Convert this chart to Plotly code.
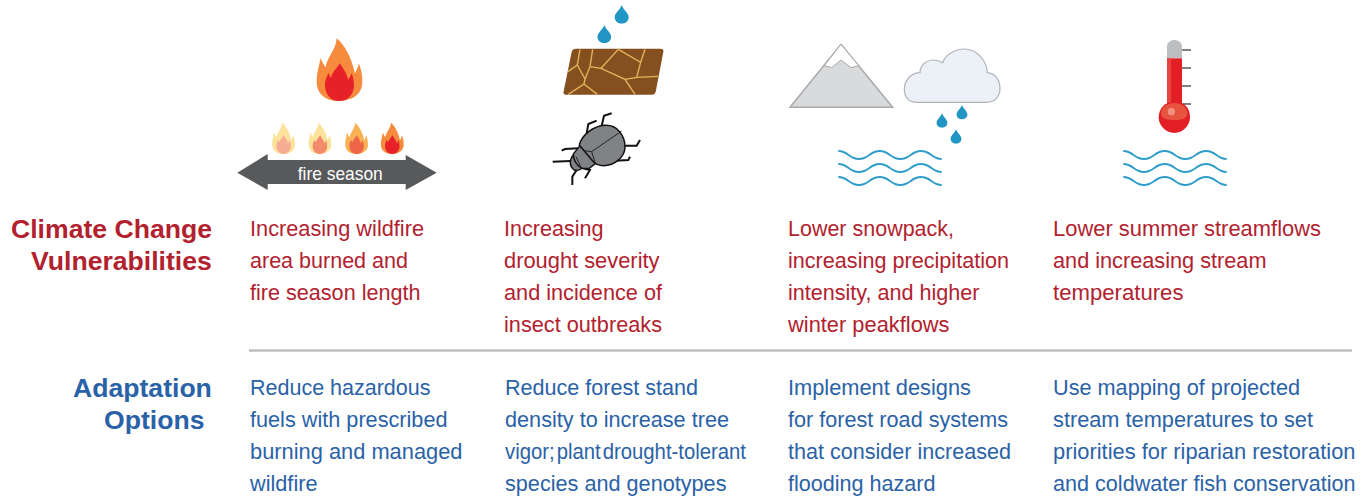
import json
import re
import plotly.graph_objects as go

# Text content
vulnerability_title = ["Climate Change", "Vulnerabilities"]
adaptation_title = ["Adaptation", "Options"]
vulnerabilities = [
    ["Increasing wildfire", "area burned and", "fire season length"],
    ["Increasing", "drought severity", "and incidence of", "insect outbreaks"],
    ["Lower snowpack,", "increasing precipitation", "intensity, and higher", "winter peakflows"],
    ["Lower summer streamflows", "and increasing stream", "temperatures"],
]
adaptations = [
    ["Reduce hazardous", "fuels with prescribed", "burning and managed", "wildfire"],
    ["Reduce forest stand", "density to increase tree", "vigor; plant drought-tolerant", "species and genotypes"],
    ["Implement designs", "for forest road systems", "that consider increased", "flooding hazard"],
    ["Use mapping of projected", "stream temperatures to set", "priorities for riparian restoration", "and coldwater fish conservation"],
]
arrow_label = "fire season"

# Layout of the text, in page pixels
column_x = [249, 503, 787, 1052]
adaptation_x = [249, 504, 787, 1052]
vulnerability_y = [228.3, 260.3, 292.3, 324.3]
adaptation_y = [387.3, 419.3, 451.3, 483.3]
# where each line ends in the reference
vulnerability_right = [
    [423.5, 407.5, 420],
    [603, 659, 661.5, 661.5],
    [953.5, 1008.5, 979, 949],
    [1320.5, 1266, 1183],
]
adaptation_right = [
    [430, 447, 462, 317],
    [697.5, 728.5, 745.5, 726],
    [970.5, 1007.5, 1010.5, 935],
    [1299.5, 1312.5, 1355, 1355],
]

RED = "#b2212e"
BLUE = "#2a62a8"
WATER = "#2196c4"
WAVE = "#2f9dc9"
GREY = "#58595b"

FLAME_OUTER = "M325,213 C285,213 260,190 260,155 C260,130 268,105 272,84 C276,95 280,103 287,112 C292,80 318,60 320,25 C345,45 365,85 375,130 C380,120 385,110 387,100 C394,120 398,140 397,160 C395,195 365,213 325,213 Z"
FLAME_INNER = "M328,213 C300,213 285,190 285,165 C285,150 290,140 296,128 C298,135 300,140 303,143 C308,125 320,115 330,100 C338,115 348,125 355,150 C358,145 362,138 365,130 C370,142 372,155 372,170 C370,195 352,213 328,213 Z"
small_flames = [
    (283, "#fde29b", "#f7ad94"),
    (319.3, "#fde29b", "#f28b6c"),
    (356, "#fbb254", "#ee6547"),
    (391.7, "#f68b3e", "#e62129"),
]

shapes = []


def xf(d, fx):
    # map "x,y" pairs of a path string through fx
    def repl(m):
        x, y = fx(float(m.group(1)), float(m.group(2)))
        return f"{x:.2f},{y:.2f}"
    return re.sub(r"(-?[\d.]+),(-?[\d.]+)", repl, d)


def crop(ox, oy):
    # coordinates measured on a 3x crop whose corner is (ox, oy)
    return lambda x, y: (ox + x / 3, oy + y / 3)


def add_path(d, fill=None, line=None, width=0):
    s = dict(type="path", xref="x", yref="y", path=d, layer="above")
    s["fillcolor"] = fill if fill else "rgba(0,0,0,0)"
    s["line"] = dict(color=line if line else "rgba(0,0,0,0)", width=width)
    shapes.append(s)


def add_flame(cx, bottom, scale, outer, inner):
    fx = lambda x, y: (cx + (x - 325) / 3 * scale, bottom + (y - 213) / 3 * scale)
    add_path(xf(FLAME_OUTER, fx), fill=outer)
    add_path(xf(FLAME_INNER, fx), fill=inner)


def add_drop(cx, top, bottom):
    h = bottom - top
    w = h * 0.38
    d = (f"M{cx:.1f},{top:.1f} C{cx + w * 0.3:.1f},{top + h * 0.3:.1f} {cx + w:.1f},{top + h * 0.42:.1f} "
         f"{cx + w:.1f},{top + h * 0.66:.1f} C{cx + w:.1f},{top + h * 0.88:.1f} {cx + w * 0.5:.1f},{bottom:.1f} {cx:.1f},{bottom:.1f} "
         f"C{cx - w * 0.5:.1f},{bottom:.1f} {cx - w:.1f},{top + h * 0.88:.1f} {cx - w:.1f},{top + h * 0.66:.1f} "
         f"C{cx - w:.1f},{top + h * 0.42:.1f} {cx - w * 0.3:.1f},{top + h * 0.3:.1f} {cx:.1f},{top:.1f} Z")
    add_path(d, fill=WATER)


def add_waves(x0, y0):
    # three wavy lines, each 103 px long
    step = 103.4 / 5
    amp = 8
    for row in range(3):
        y = y0 + 13 * row
        d = f"M{x0:.1f},{y:.1f} C{x0 + step * 0.5:.1f},{y:.1f} {x0 + step * 0.5:.1f},{y + amp:.1f} {x0 + step:.1f},{y + amp:.1f}"
        for k in range(2, 6):
            target = y if k % 2 == 0 else y + amp
            prev = y + amp if k % 2 == 0 else y
            xa = x0 + step * (k - 1)
            d += f" C{xa + step * 0.5:.1f},{prev:.1f} {xa + step * 0.5:.1f},{target:.1f} {xa + step:.1f},{target:.1f}"
        add_path(d, line=WAVE, width=1.8)


# --- fire icons ---
add_flame(338.3, 101, 1, "#f68b3e", "#e62129")
for cx, outer, inner in small_flames:
    add_flame(cx, 154, 0.5, outer, inner)
add_path("M237.3,172.7 L267.7,154 L267.7,160 L405.7,160 L405.7,155 L436.7,172.7 L405.7,190 L405.7,184 L267.7,184 L267.7,190 Z", fill=GREY)

# --- drought and beetle ---
f2 = crop(540, 0)
add_drop(621.7, 5, 23.5)
add_drop(604.3, 25, 43)
add_path(xf("M108,146 L362,146 Q372,146 370,156 L347,276 Q345,284 337,284 L78,284 Q68,284 71,274 L95,156 Q98,146 108,146 Z", f2), fill="#85501f")
cracks = [
    "M120,148 L112,195 L135,237 L132,252 L85,283",
    "M112,195 L84,215",
    "M158,148 L150,200 L135,237",
    "M150,200 L183,205 L255,238 L285,283",
    "M132,252 L172,283",
    "M183,205 L235,148 L302,187 L315,148",
    "M302,187 L290,232 L255,238",
    "M290,232 L355,229",
]
for c in cracks:
    add_path(xf(c, f2), line="#e3b35c", width=1.4)
legs = [
    "M185,378 L192,347 L215,340",
    "M140,400 L145,372 L170,362",
    "M253,437 L290,437 L300,420",
    "M225,482 L265,480 L270,470",
    "M115,445 L75,447 L65,452",
    "M92,483 L38,485",
    "M110,510 L97,530 L97,555",
    "M128,505 L150,510 L135,535",
]
for leg in legs:
    add_path(xf(leg, f2), line="#111111", width=2)
add_path(xf("M100,465 C88,478 88,498 100,508 C110,515 120,510 128,503 Z", f2), fill="#808285", line="#111111", width=1.4)
add_path(xf("M120,437 L100,462 C100,480 110,498 128,505 L148,505 L167,490 Z", f2), fill="#808285", line="#111111", width=1.4)
add_path(xf("M118,435 C125,405 160,378 195,376 C230,374 255,405 255,440 C255,470 225,497 190,497 C170,497 165,490 160,485 Z", f2), fill="#808285", line="#111111", width=1.5)
add_path(xf("M245,393 L155,455 L132,452 M155,455 L166,490 M108,470 L122,500", f2), line="#222222", width=1)

# --- mountain and cloud ---
f3 = crop(780, 35)
add_path(xf("M183,28 L338,217 L30,217 Z", f3), fill="#d9dadb", line="#a7a9ac", width=1.5)
add_path(xf("M183,28 L236,92 L213,98 L183,75 L155,98 L133,92 Z", f3), fill="#ffffff", line="#a7a9ac", width=1)
add_path(xf("M410,202 C385,202 373,185 373,163 C373,135 395,113 420,113 C420,90 440,75 460,75 C470,75 480,78 488,83 C495,60 525,42 552,42 C590,42 620,75 622,113 C645,115 660,135 660,160 C660,185 645,202 620,202 Z", f3),
         fill="#ecf1f8", line="#b1b3b6", width=1.2)
add_drop(780 + 546 / 3, 35 + 210 / 3, 35 + 253 / 3)
add_drop(780 + 486 / 3, 35 + 235 / 3, 35 + 278 / 3)
add_drop(780 + 528 / 3, 35 + 283 / 3, 35 + 326 / 3)
add_waves(838.3, 151)

# --- thermometer ---
f4 = crop(1110, 30)
for tick_y in [60, 114, 168, 222]:
    add_path(xf(f"M216,{tick_y} L243,{tick_y}", f4), line=GREY, width=1.5)
add_path(xf("M171,85 L171,50 C171,37 182,30 193,30 C205,30 216,37 216,50 L216,85 Z", f4), fill="#bcbec0")
add_path(xf("M171,85 L216,85 L216,235 L171,235 Z", f4), fill="#e31f26")
add_path(xf("M171,85 L183,85 L183,235 L171,235 Z", f4), fill="#e8443f")
add_path(xf("M193,215 C225,215 240,235 240,262 C240,288 218,309 193,309 C168,309 146,288 146,262 C146,235 165,215 193,215 Z", f4), fill="#e21f26")
add_path(xf("M193,219 C218,219 232,235 232,250 C232,268 215,270 193,270 C171,270 153,268 153,250 C153,235 168,219 193,219 Z", f4), fill="#e8533f")
add_path(xf("M184,233 C191,233 195,239 195,245 C195,252 191,256 184,256 C177,256 173,252 173,245 C173,239 177,233 184,233 Z", f4), fill="#f0907e")
add_waves(1123.3, 151)

# divider between the two rows
shapes.append(dict(type="line", xref="x", yref="y", x0=249, x1=1352, y0=350.5, y1=350.5,
                   line=dict(color="#bcbec0", width=2.5), layer="above"))

annotations = []
line_widths = {}


def add_text(text, x, y, color, size, anchor="left", bold=False):
    annotations.append(dict(
        text=f"<b>{text}</b>" if bold else text,
        x=x, y=y, xref="x", yref="y", xanchor=anchor, yanchor="middle", align=anchor,
        showarrow=False, borderpad=0,
        font=dict(family="Liberation Sans, Arial, sans-serif", size=size, color=color),
    ))


def add_body(lines, xs, ys, rights, color):
    for i, column in enumerate(lines):
        for j, line in enumerate(column):
            line_widths[line] = rights[i][j] - xs[i] - 0.5
            # lines starting with a "w" sit a pixel too far right otherwise
            add_text(line, xs[i] - (1 if line.startswith("w") else 0), ys[j], color, 22.5)


add_text(vulnerability_title[0], 213, 229, RED, 26.6, "right", True)
add_text(vulnerability_title[1], 213, 261, RED, 26.6, "right", True)
add_text(adaptation_title[0], 213, 388, BLUE, 26.6, "right", True)
add_text(adaptation_title[1], 205, 420, BLUE, 26.6, "right", True)
add_text(arrow_label, 340, 173, "#ffffff", 18.5, "center")
line_widths[arrow_label] = 85

add_body(vulnerabilities, column_x, vulnerability_y, vulnerability_right, RED)
add_body(adaptations, adaptation_x, adaptation_y, adaptation_right, BLUE)

fig = go.Figure()
fig.update_layout(
    width=1372,
    height=498,
    margin=dict(l=0, r=0, t=0, b=0),
    paper_bgcolor="white",
    plot_bgcolor="white",
    showlegend=False,
    xaxis=dict(range=[0, 1372], visible=False, fixedrange=True),
    yaxis=dict(range=[498, 0], visible=False, fixedrange=True),
    shapes=shapes,
    annotations=annotations,
)

# the reference type is a little condensed, so fit each regular line to its width
squeeze = """
document.body.style.margin = '0';
var widths = %s;
document.querySelectorAll('.annotation-text').forEach(function (el) {
    var w = widths[el.textContent];
    if (w) {
        // this line has very tight word gaps in the reference
        if (el.textContent.indexOf('vigor') === 0) { el.style.wordSpacing = '-4px'; }
        el.setAttribute('textLength', w);
        el.setAttribute('lengthAdjust', 'spacingAndGlyphs');
    }
});
""" % json.dumps(line_widths)
fig.write_html("out.html", config={"displayModeBar": False}, post_script=squeeze)
